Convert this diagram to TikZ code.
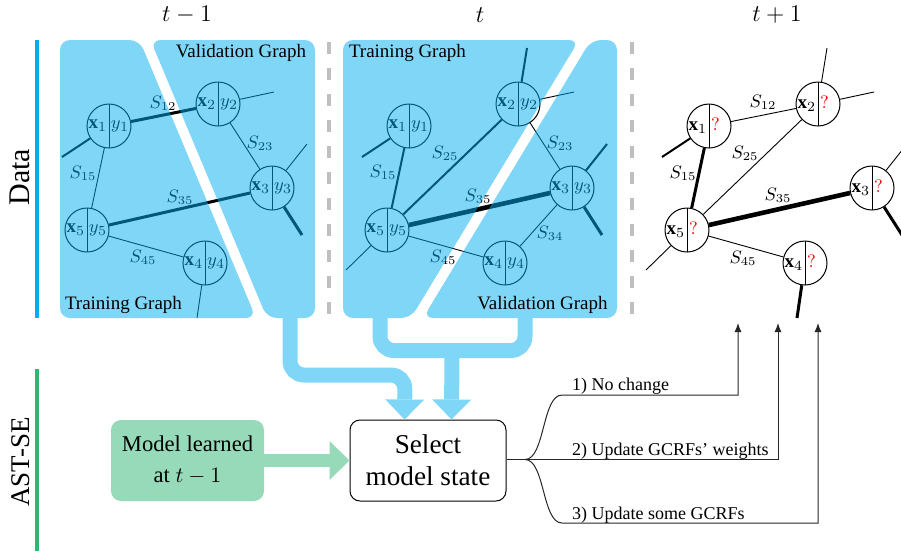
\documentclass[tikz,border=0pt]{standalone}
\usepackage{amsmath}
\usepackage{fontspec}
\setmainfont{Liberation Serif}
\usepackage{tikz}
\usetikzlibrary{calc,arrows.meta}
\definecolor{dblue}{RGB}{0,174,239}
\definecolor{dgreen}{RGB}{46,182,115}
% content of a split node: features left, label right
\newcommand{\cellxy}[2]{\makebox[9pt][r]{$\mathbf{x}_{#1}$}\hspace{2pt}\makebox[9pt][l]{$#2$}}
\tikzset{
    % graph nodes and edge weights
    split node/.style={circle,draw,line width=0.5pt,minimum size=22pt,inner sep=0pt,font=\fontsize{9.5}{11}\selectfont,
        path picture={\draw (path picture bounding box.north) -- (path picture bounding box.south);}},
    weak link/.style={line width=0.45pt}, mid link/.style={line width=1pt},
    strong link/.style={line width=1.5pt}, top link/.style={line width=2.3pt},
    % data panels and flows
    panel/.style={fill=dblue,fill opacity=0.5,rounded corners=5pt},
    sep line/.style={draw=black!25,line width=1.6pt,dash pattern=on 6pt off 7pt},
    pipe/.style={draw=dblue!50,line width=7.5pt,rounded corners=7pt},
    pipe end/.style={pipe,-{Triangle[width=19.5pt,length=10pt,line width=0pt]}},
    choice line/.style={draw=black!85,line width=0.5pt},
    box/.style={rounded corners=5pt,align=center,minimum height=40.5pt},
    step head/.style={inner sep=1pt,font=\fontsize{13}{15}\selectfont}
    }
\begin{document}
\begin{tikzpicture}[x=0.5pt,y=-0.5pt,font=\fontsize{9}{11}\selectfont]
    \clip (0,0) rectangle (901,554);
    % time steps
    \node[step head] (h0) at (187,15) {$t-1$};
    \node[step head] (h1) at (480,15) {$t$};
    \node[step head] (h2) at (777,15) {$t+1$};
    \node[rotate=90] (data) at (20,177) {\fontsize{15}{17}\selectfont Data};
    \node[rotate=90] (astse) at (21,462) {\fontsize{13.5}{15}\selectfont AST-SE};
    \draw[dblue,line width=2pt] (37,40) -- (37,318);
    \draw[dgreen,line width=2pt] (37,369) -- (37,551);
    % The graphs
    \foreach \pn/\dx in {a/0,b/300}
        \foreach \i/\x/\y in {1/109/126,2/218/104,3/272/188,4/205/263,5/87/230}
            \node[split node] (\pn\i) at (\x+\dx,\y) {\cellxy{\i}{y_{\i}}};
    \foreach \i/\x/\y in {1/109/126,2/218/104,3/272/188,4/205/263,5/87/230}
        \node[split node] (c\i) at (\x+600,\y) {\cellxy{\i}{\textcolor{red}{?}}};
    \foreach \pn/\dx in {a/0,b/300,c/600}
        \foreach \k/\x/\y in {1/62/157,2/274/92,6/227/48,3/307/144,7/302/235,4/197/318,5/46/270}
            \coordinate (\pn-e\k) at (\x+\dx,\y);
    \draw[strong link] (a1) -- (a2); \draw[weak link] (a1) -- (a5); \draw[weak link] (a2) -- (a3);
    \draw[strong link] (a5) -- (a3); \draw[weak link] (a5) -- (a4);
    \draw[mid link] (a1) -- (a-e1); \draw[weak link] (a2) -- (a-e2); \draw[weak link] (a3) -- (a-e3);
    \draw[strong link] (a3) -- (a-e7); \draw[weak link] (a4) -- (a-e4);
    \draw[mid link] (b1) -- (b5); \draw[mid link] (b2) -- (b5); \draw[weak link] (b2) -- (b3);
    \draw[top link] (b5) -- (b3); \draw[weak link] (b5) -- (b4); \draw[weak link] (b4) -- (b3);
    \draw[mid link] (b1) -- (b-e1); \draw[mid link] (b2) -- (b-e6); \draw[weak link] (b2) -- (b-e2);
    \draw[mid link] (b3) -- (b-e3); \draw[strong link] (b3) -- (b-e7); \draw[weak link] (b5) -- (b-e5);
    \draw[weak link] (c1) -- (c2); \draw[strong link] (c1) -- (c5); \draw[weak link] (c2) -- (c5);
    \draw[top link] (c5) -- (c3); \draw[weak link] (c5) -- (c4);
    \draw[mid link] (c1) -- (c-e1); \draw[weak link] (c2) -- (c-e6); \draw[weak link] (c2) -- (c-e2);
    \draw[weak link] (c3) -- (c-e3); \draw[strong link] (c3) -- (c-e7); \draw[strong link] (c4) -- (c-e4);
    \draw[weak link] (c5) -- (c-e5);
    \foreach \pn/\ij/\x/\y in {a/12/163/103,a/15/83/173,a/23/260/143,a/35/180/197,a/45/143/257,
        b/15/383/172,b/25/445/153,b/23/560/143,b/35/478/196,b/45/443/257,b/34/550/233,
        c/12/763/102,c/15/683/173,c/25/745/153,c/35/778/195,c/45/743/258}
        \node (\pn-\ij) at (\x,\y) {$S_{\ij}$};
    % training and validation parts
    \fill[panel] (60,40) -- (139.5,40) -- (256,318) -- (60,318) -- cycle;
    \fill[panel] (150.5,40) -- (315,40) -- (315,318) -- (267,318) -- cycle;
    \fill[panel] (343,40) -- (579,40) -- (411,318) -- (343,318) -- cycle;
    \fill[panel] (591,40) -- (617,40) -- (617,318) -- (423,318) -- cycle;
    \node (va) at (241,53) {\fontsize{9.5}{11}\selectfont Validation Graph};
    \node (ta) at (123.5,305) {\fontsize{9.5}{11}\selectfont Training Graph};
    \node (tb) at (407.5,53) {\fontsize{9.5}{11}\selectfont Training Graph};
    \node (vb) at (542.5,305) {\fontsize{9.5}{11}\selectfont Validation Graph};
    \draw[sep line] (329,42) -- (329,322);
    \draw[sep line] (632,42) -- (632,322);
    % model selection
    \node[box,fill=dgreen!50,minimum width=76.5pt,font=\fontsize{11.3}{15.5}\selectfont] (mod) at (187.5,460.5) {Model learned\\at $t-1$};
    \node[box,draw,line width=0.5pt,minimum width=78pt,font=\fontsize{13.6}{16}\selectfont] (sel) at (428,460.5) {Select\\model state};
    \draw[pipe end,draw=dgreen!50,line width=6.5pt] (mod) -- (sel);
    \coordinate (pa) at (290,318); \coordinate (pb) at (380,318); \coordinate (pc) at (525,318);
    \draw[pipe end] (pa) -- (290,375) -- (405,375) -- ($(sel.north)+(-23.5,0)$);
    \draw[pipe] (pb) -- (380,350.5) -- (525,350.5) -- (pc);
    \draw[pipe end] (452,350.5) -- ($(sel.north)+(23.5,0)$);
    % what to do next
    \coordinate (br) at (525,459.5);
    \coordinate (u1) at (738,323); \coordinate (u2) at (778,323); \coordinate (u3) at (818,323);
    \draw[choice line] (sel.east |- br) -- (br);
    \draw[choice line,-{Latex[length=4.5pt,width=3.5pt]}] (br) .. controls (545,459.5) and (542,395) .. (562,395) -| (u1);
    \draw[choice line,-{Latex[length=4.5pt,width=3.5pt]}] (br) -| (u2);
    \draw[choice line,-{Latex[length=4.5pt,width=3.5pt]}] (br) .. controls (545,459.5) and (542,523) .. (562,523) -| (u3);
    \node[anchor=base west] (o1) at (565,390) {1) No change};
    \node[anchor=base west] (o2) at (565,455) {2) Update GCRFs' weights};
    \node[anchor=base west] (o3) at (565,519) {3) Update some GCRFs};
\end{tikzpicture}
\end{document}
